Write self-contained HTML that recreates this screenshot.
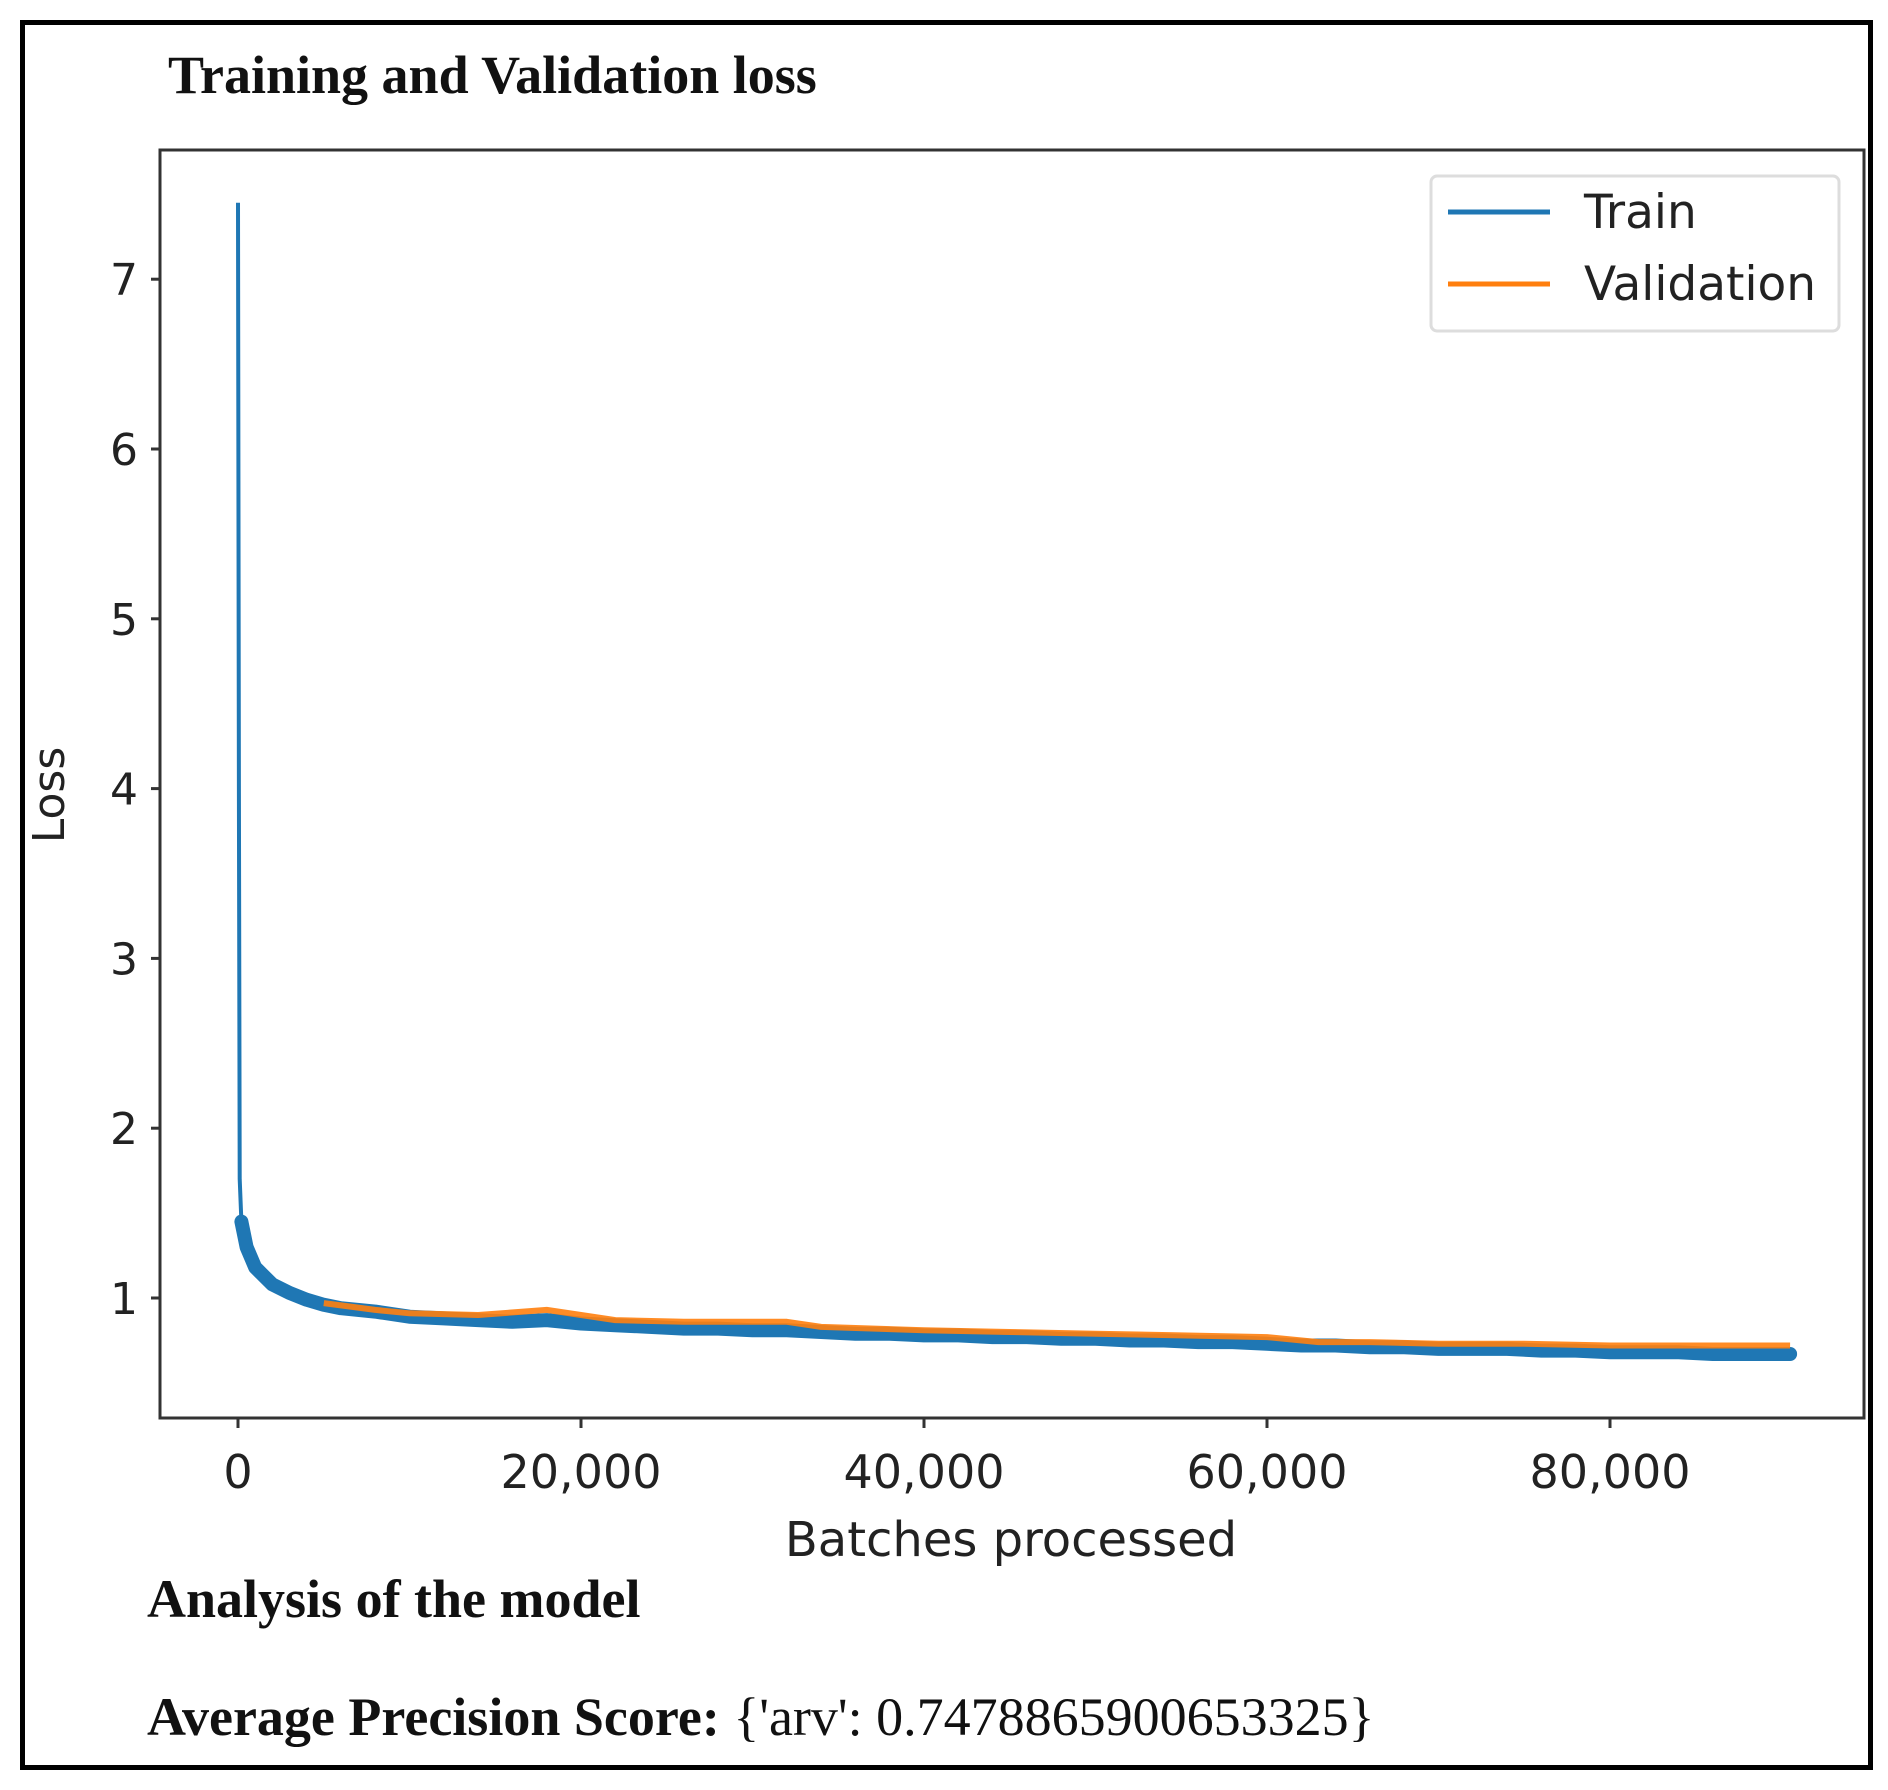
<!DOCTYPE html>
<html><head><meta charset="utf-8">
<style>
html,body{margin:0;padding:0;background:#fff;}
body{width:1888px;height:1790px;position:relative;overflow:hidden;}
.serif{font-family:"Liberation Serif",serif;font-weight:bold;color:#111;position:absolute;white-space:nowrap;}
</style></head>
<body>
<div style="position:absolute;left:20px;top:20px;width:1843px;height:1740px;border:5px solid #000;"></div>
<div class="serif" style="left:168px;top:44px;font-size:54px;">Training and Validation loss</div>
<div class="serif" style="left:147px;top:1568px;font-size:54px;">Analysis of the model</div>
<div class="serif" style="left:147px;top:1686px;font-size:54px;">Average Precision Score: <span style="font-weight:normal">{'arv': 0.7478865900653325}</span></div>
<svg id="chart" width="1888" height="1790" style="position:absolute;left:0;top:0" xmlns="http://www.w3.org/2000/svg"></svg>
<script>
const trainX=[0,50,100,200,500,1000,2000,3000,4000,5000,6000,8000,10000,12000,14000,16000,18000,20000,22000,24000,26000,28000,30000,32000,34000,36000,38000,40000,42000,44000,46000,48000,50000,52000,54000,56000,58000,60000,62000,64000,66000,68000,70000,72000,74000,76000,78000,80000,82000,84000,86000,88000,90500];
const trainY=[7.45,4.0,1.7,1.45,1.3,1.18,1.08,1.03,0.99,0.96,0.94,0.92,0.89,0.88,0.87,0.86,0.87,0.85,0.84,0.83,0.82,0.82,0.81,0.81,0.80,0.79,0.79,0.78,0.78,0.77,0.77,0.76,0.76,0.75,0.75,0.74,0.74,0.73,0.72,0.72,0.71,0.71,0.70,0.70,0.70,0.69,0.69,0.68,0.68,0.68,0.67,0.67,0.67];
const valX=[5000,8000,10000,14000,18000,20000,22000,26000,30000,32000,34000,40000,45000,50000,55000,60000,63000,66000,70000,75000,80000,85000,90500];
const valY=[0.97,0.93,0.91,0.90,0.93,0.90,0.87,0.86,0.86,0.86,0.83,0.81,0.80,0.79,0.78,0.77,0.74,0.74,0.73,0.73,0.72,0.72,0.72];
const xTicks=[0,20000,40000,60000,80000];
const xTickLabels=["0","20,000","40,000","60,000","80,000"];
const yTicks=[1,2,3,4,5,6,7];

const NS="http://www.w3.org/2000/svg";
const svg=document.getElementById('chart');
const L=160,T=150,R=1864,B=1418;
function xs(v){return 238+v*(343/20000);}
function ys(v){return 1298-(v-1)*169.8;}
function mk(tag,attrs){const e=document.createElementNS(NS,tag);for(const k in attrs)e.setAttribute(k,attrs[k]);svg.appendChild(e);return e;}

const frame=mk('rect',{x:L,y:T,width:R-L,height:B-T,fill:'none',stroke:'#333',"stroke-width":3});



yTicks.forEach(v=>{
  const t=mk('line',{x1:L-9,x2:L,y1:ys(v),y2:ys(v),stroke:'#333',"stroke-width":3});
  
  
  const lb=mk('text',{x:L-22,y:ys(v)+16,"text-anchor":"end","font-family":"DejaVu Sans, sans-serif","font-size":44,fill:'#222'});
  lb.textContent=v;
  
  
});
xTicks.forEach((v,i)=>{
  const t=mk('line',{x1:xs(v),x2:xs(v),y1:B,y2:B+10,stroke:'#333',"stroke-width":3});
  
  
  const lb=mk('text',{x:xs(v),y:B+70,"text-anchor":"middle","font-family":"DejaVu Sans, sans-serif","font-size":46,fill:'#222'});
  lb.textContent=xTickLabels[i];
  
  
});
const xl=mk('text',{x:1011,y:1556,"text-anchor":"middle","font-family":"DejaVu Sans, sans-serif","font-size":48,fill:'#222'});
xl.textContent='Batches processed';


const yl=mk('text',{x:0,y:0,"text-anchor":"middle","font-family":"DejaVu Sans, sans-serif","font-size":44,fill:'#222',transform:'translate(64,795) rotate(-90)'});
yl.textContent='Loss';



function pathD(X,Y,filt){let d='';X.forEach((x,i)=>{if(filt&&!filt(x))return;d+=(d?'L':'M')+xs(x).toFixed(1)+','+ys(Y[i]).toFixed(1);});return d;}
const tl=mk('path',{d:pathD(trainX,trainY),fill:'none',stroke:'#1f77b4',"stroke-width":4,"stroke-linejoin":"round"});


const tb=mk('path',{d:pathD(trainX,trainY,x=>x>=200),fill:'none',stroke:'#1f77b4',"stroke-width":14,"stroke-linejoin":"round","stroke-linecap":"round"});


const vl=mk('path',{d:pathD(valX,valY),fill:'none',stroke:'#ff7f0e',"stroke-width":6,"stroke-linejoin":"round",opacity:0.9});



const lg=mk('rect',{x:1431,y:176,width:408,height:155,rx:6,fill:'#fff',stroke:'#ddd',"stroke-width":3});


[['Train','#1f77b4',212],['Validation','#ff7f0e',284]].forEach(([n,c,y])=>{
  const l=mk('line',{x1:1448,x2:1550,y1:y,y2:y,stroke:c,"stroke-width":5});
  
  
  const t=mk('text',{x:1584,y:y+16,"font-family":"DejaVu Sans, sans-serif","font-size":47,fill:'#222'});
  t.textContent=n;
  
  
});
</script>
</body></html>
